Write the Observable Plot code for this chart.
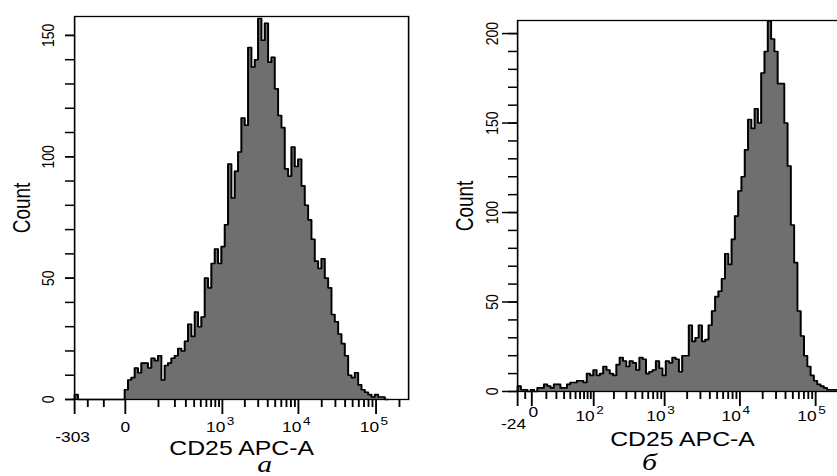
<!DOCTYPE html>
<html><head><meta charset="utf-8">
<script src="https://cdn.jsdelivr.net/npm/d3@7"></script>
<script src="https://cdn.jsdelivr.net/npm/@observablehq/plot@0.6"></script>
<style>
html,body{margin:0;padding:0;background:#fff;}
body{width:837px;height:476px;overflow:hidden;position:relative;}
.panel{position:absolute;top:0;transform-origin:0 0;transform:scaleX(1.24);}
</style></head><body>
<div id="pa" class="panel" style="left:0px"></div>
<div id="pb" class="panel" style="left:420px"></div>
<script>
// ---------- data: panel а ----------
const leftDomain = [-303, 262144];
// counts per display channel, starting at -303
const leftCounts = [2,0,0,0,0,0,0,0,0,0,0,0,0,0,0,
  4,8,9,13,11,15,15,13,17,16,18,8,14,15,17,18,21,20,24,31,26,36,30,34,50,46,56,62,56,63,
  72,97,83,94,102,116,113,145,137,140,157,148,155,139,141,128,117,112,95,92,104,96,99,88,
  80,74,66,57,54,58,50,46,35,32,27,23,18,10,9,11,6,4,3,2,1,2,1,1,0];
const leftYTicks = [0,10,20,30,40,50,60,70,80,90,100,110,120,130,140,150];
const leftYLabels = [0, 50, 100, 150];
const leftXMajor = [-303, 0, 1000, 10000, 100000];
const leftXMinor = [-200,-100,100,200,300,400,500,600,700,800,900,
  2000,3000,4000,5000,6000,7000,8000,9000,
  20000,30000,40000,50000,60000,70000,80000,90000,200000];
const leftDecades = [1000, 10000, 100000];
const leftDecadeExp = ["3", "4", "5"];

// ---------- data: panel б ----------
const rightDomain = [-24, 262144];
const rightCounts = [3,1,1,0,1,0,2,2,4,3,2,4,4,2,2,4,5,5,6,6,5,10,9,12,9,10,14,12,10,9,
  15,19,17,14,17,16,12,19,18,10,11,12,17,13,9,17,16,19,18,11,20,20,37,28,
  30,37,28,29,37,45,53,56,63,77,71,85,98,112,120,135,152,147,158,150,178,190,207,197,
  190,172,172,150,126,93,72,45,31,20,14,9,6,4,3,2,1,1,1,1];
const rightYTicks = [0,10,20,30,40,50,60,70,80,90,100,110,120,130,140,150,160,170,180,190,200];
const rightYMajor = [0, 50, 100, 150, 200];
const rightXMajor = [-24, 0, 100, 1000, 10000, 100000];
const rightXMinor = [-10,10,20,30,40,50,60,70,80,90,200,300,400,500,600,700,800,900,
  2000,3000,4000,5000,6000,7000,8000,9000,
  20000,30000,40000,50000,60000,70000,80000,90000,200000];
const rightDecades = [100, 1000, 10000, 100000];
const rightDecadeExp = ["2", "3", "4", "5"];

const axisTitleX = "CD25 APC-A";
const axisTitleY = "Count";
const captions = ["а", "б"];

// ---------- helpers ----------
const S = 1.24; // horizontal stretch of the reference
const FONT = '"Liberation Sans", Arial, sans-serif';
function biex(cPos, cNeg, kNeg) {
  return x => x >= 0 ? Math.log1p(x / cPos) : -kNeg * Math.log1p(-x / cNeg);
}
function biexInv(cPos, cNeg, kNeg) {
  return t => t >= 0 ? cPos * Math.expm1(t) : -cNeg * Math.expm1(-t / kNeg);
}
function histRows(counts, start, step, tf, inv) {
  const t0 = tf(start);
  const rows = [{x: inv(t0), y: 0}];
  counts.forEach((c, i) => rows.push({x: inv(t0 + i * step), y: c}));
  const xe = inv(t0 + counts.length * step);
  rows.push({x: xe, y: counts[counts.length - 1]});
  rows.push({x: xe, y: 0});
  return rows;
}

function panel(cfg) {
  const rows = histRows(cfg.counts, cfg.domain[0], cfg.step, cfg.tf, cfg.inv);
  return Plot.plot({
    width: cfg.width, height: 476,
    marginLeft: cfg.marginLeft, marginRight: cfg.marginRight,
    marginTop: cfg.marginTop, marginBottom: cfg.marginBottom,
    style: {fontFamily: FONT, fontSize: "14px", background: "transparent", overflow: "visible", color: "#000"},
    x: {type: "linear", transform: cfg.tf, domain: cfg.domain.map(cfg.tf), label: null, axis: null},
    y: {domain: [0, cfg.ymax], label: null},
    marks: [
      Plot.areaY(rows, {x: "x", y1: 0, y2: "y", curve: "step-after", fill: "#6f6f6f"}),
      Plot.line(rows, {x: "x", y: "y", curve: "step-after", stroke: "#000", strokeWidth: 1.6}),
      Plot.frame({stroke: "#000", strokeWidth: 1.3}),
      Plot.axisY({ticks: cfg.yTicks, tickSize: 9 / S, tickFormat: () => "", label: null, strokeWidth: 1.5}),
      Plot.axisY({ticks: cfg.yMajor, tickSize: cfg.yMajorSize / S, tickFormat: () => "", label: null, strokeWidth: 1.5}),
      Plot.text(cfg.yMajor, {y: d => d, text: d => String(d), frameAnchor: "left", dx: -cfg.yLabelOff / S,
        rotate: -90, textAnchor: "middle", lineAnchor: "middle", fontSize: 14}),
      Plot.text([axisTitleY], {text: d => d, frameAnchor: "left", dx: -52 / S, rotate: -90,
        textAnchor: "middle", lineAnchor: "middle", fontSize: 19}),
      // x ticks below the baseline
      Plot.ruleX(cfg.xMinor, {x: d => d, y1: 0, y2: 0, insetBottom: -8, stroke: "#000", strokeWidth: 1.5}),
      Plot.ruleX(cfg.xMajor, {x: d => d, y1: 0, y2: 0, insetBottom: -15, stroke: "#000", strokeWidth: 1.5}),
      Plot.text([cfg.xMajor[0]], {x: d => d, text: d => String(d), frameAnchor: "bottom", dx: cfg.minDx / S, dy: cfg.minDy,
        textAnchor: "middle", lineAnchor: "middle", fontSize: 14}),
      Plot.text([0], {x: d => d, text: d => String(d), frameAnchor: "bottom", dx: cfg.zeroDx / S, dy: cfg.zeroDy,
        textAnchor: "middle", lineAnchor: "middle", fontSize: 14}),
      Plot.text(cfg.decades, {x: d => d, text: () => "10", frameAnchor: "bottom", dx: cfg.tenDx / S, dy: cfg.tenDy,
        textAnchor: "end", lineAnchor: "middle", fontSize: 14}),
      Plot.text(cfg.decades, {x: d => d, text: cfg.exps, frameAnchor: "bottom", dx: (cfg.tenDx + 1.5) / S, dy: cfg.tenDy - 6,
        textAnchor: "start", lineAnchor: "middle", fontSize: 11}),
      Plot.text([axisTitleX], {text: d => d, frameAnchor: "bottom", dy: cfg.titleDy,
        textAnchor: "middle", lineAnchor: "middle", fontSize: 20}),
      Plot.text([cfg.caption], {text: d => d, frameAnchor: "bottom", dx: cfg.capDx / S, dy: cfg.capDy,
        textAnchor: "middle", lineAnchor: "middle", fontSize: 24, fontStyle: "italic",
        fontFamily: '"Liberation Serif", "Times New Roman", serif'})
    ]
  });
}

const tfL = biex(60, 250, 1.89), invL = biexInv(60, 250, 1.89);
const tfR = biex(18, 50, 1.1), invR = biexInv(18, 50, 1.1);

document.getElementById("pa").append(panel({
  counts: leftCounts, domain: leftDomain, step: 0.0987, tf: tfL, inv: invL,
  width: 420 / S, marginLeft: 74 / S, marginRight: 12 / S, marginTop: 16, marginBottom: 77,
  ymax: 157.8, yTicks: leftYTicks, yMajor: leftYLabels, yMajorSize: 9, yLabelOff: 26.5,
  xMajor: leftXMajor, xMinor: leftXMinor, decades: leftDecades, exps: leftDecadeExp,
  minDx: -2, minDy: 38, zeroDx: 0, zeroDy: 28, tenDx: 3, tenDy: 28,
  titleDy: 49, caption: captions[0], capDx: 23, capDy: 65
}));

document.getElementById("pb").append(panel({
  counts: rightCounts, domain: rightDomain, step: 0.1, tf: tfR, inv: invR,
  width: 428 / S, marginLeft: 97 / S, marginRight: 1, marginTop: 20, marginBottom: 85,
  ymax: 207.3, yTicks: rightYTicks, yMajor: rightYMajor, yMajorSize: 15, yLabelOff: 25,
  xMajor: rightXMajor, xMinor: rightXMinor, decades: rightDecades, exps: rightDecadeExp,
  minDx: -4, minDy: 33, zeroDx: 1.5, zeroDy: 21, tenDx: 1, tenDy: 25,
  titleDy: 48, caption: captions[1], capDx: -33, capDy: 71
}));
</script></body></html>
